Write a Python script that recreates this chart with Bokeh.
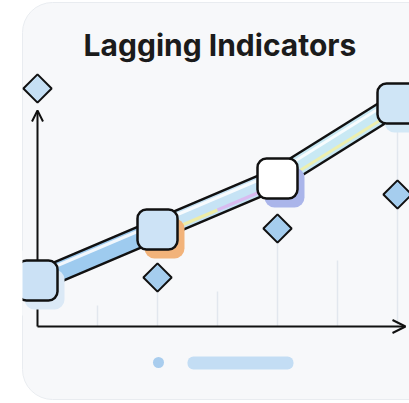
import numpy as np
from bokeh.plotting import figure
from bokeh.models import Range1d, BoxAnnotation, Arrow, OpenHead, Label
from bokeh.embed import file_html
from bokeh.resources import INLINE

# ---- data ----
periods = [0, 1, 2, 3]
lagging = [46, 97, 148, 223]          # main series (rounded squares)
leading = [238, 49, 98, 132]          # diamond series
square_fill = ["#cbe1f5", "#cde3f6", "#ffffff", "#cfe5f6"]
shadow_fill = ["#dbe9f6", "#f2b37a", "#aab5ea", "#d3e8f6"]
diamond_fill = ["#c5dff4", "#a5cdee", "#a5cdee", "#a5cdee"]
tick_pos = [0.5, 1, 1.5, 2, 2.5, 3]
tick_height = [21, 49, 35, 98, 66, 223]
title = "Lagging Indicators"

PX = 120.0  # pixels per period
X0 = 37     # pixel of period 0
W, H = 409, 403
xmin = -X0 / PX
xmax = xmin + W / PX
AXIS_Y = 326
ymax = AXIS_Y
ymin = AXIS_Y - H

p = figure(width=W, height=H, x_range=Range1d(xmin, xmax), y_range=Range1d(ymin, ymax),
           output_backend="svg", toolbar_location=None, min_border=0,
           x_axis_location=None, y_axis_location=None,
           outline_line_color=None, background_fill_color="white", border_fill_color="white")
p.grid.visible = False

def dx(px):
    return px / PX

def px_x(page_x):
    return (page_x - X0) / PX

def px_y(page_y):
    return AXIS_Y - page_y

# panel
panel = BoxAnnotation(left=px_x(22), right=xmax + 1, top=px_y(2), bottom=px_y(399),
                      fill_color="#f7f8fa", fill_alpha=1, line_color="#e9ecf0", line_alpha=1,
                      line_width=1, border_radius=30, level="underlay")
p.add_layout(panel)

# faint vertical ticks
p.segment(x0=tick_pos, y0=[0] * len(tick_pos), x1=tick_pos, y1=tick_height,
          line_color="#e2e7ee", line_width=1.5)

# axes
p.add_layout(Arrow(x_start=0, y_start=0, x_end=0, y_end=px_y(110), line_width=2, line_color="#111111",
                   end=OpenHead(size=11, line_width=2, line_color="#111111")))
p.add_layout(Arrow(x_start=0, y_start=0, x_end=px_x(405), y_end=0, line_width=2, line_color="#111111",
                   end=OpenHead(size=13, line_width=2, line_color="#111111")))

# band
xs = np.array(periods, dtype=float)
ys = np.array(lagging, dtype=float)
p.line(xs, ys, line_width=23, line_color="#111111", line_join="round")
seg_colors = ["#9ecbef", "#c6e3f5", "#c9e9f4"]
p.segment(x0=xs[:-1], y0=ys[:-1], x1=xs[1:], y1=ys[1:], line_width=18, line_color=seg_colors)
# highlights
p.segment(x0=xs[:-1], y0=ys[:-1] + 6.5, x1=xs[1:], y1=ys[1:] + 6.5, line_width=3,
          line_color="#ffffff", line_alpha=0.85)
mx = (xs[:-1] + xs[1:]) / 2
my = (ys[:-1] + ys[1:]) / 2
stripe_x0 = [xs[1], mx[1], xs[2]]
stripe_y0 = [ys[1] - 6, my[1] - 6, ys[2] - 6]
stripe_x1 = [mx[1], xs[2], xs[3]]
stripe_y1 = [my[1] - 6, ys[2] - 6, ys[3] - 6]
p.segment(x0=stripe_x0, y0=stripe_y0, x1=stripe_x1, y1=stripe_y1, line_width=3,
          line_color=["#f2ec9c", "#dab6ef", "#f1efa6"], line_alpha=0.9)

# diamonds
p.scatter(periods, leading, marker="square", angle=np.pi / 4, size=20,
          fill_color=diamond_fill, line_color="#111111", line_width=2)

# squares with coloured shadows
half = 20
for xv, yv, shf in zip(periods, lagging, shadow_fill):
    p.add_layout(BoxAnnotation(left=xv - dx(half) + dx(7), right=xv + dx(half) + dx(7),
                               top=yv + half - 9, bottom=yv - half - 9,
                               fill_color=shf, fill_alpha=1, line_color=None, border_radius=10))
for xv, yv, sf in zip(periods, lagging, square_fill):
    p.add_layout(BoxAnnotation(left=xv - dx(half), right=xv + dx(half),
                               top=yv + half, bottom=yv - half,
                               fill_color=sf, fill_alpha=1, line_color="#111111", line_alpha=1,
                               line_width=2.5, border_radius=9))

# clip first square at panel edge
p.add_layout(BoxAnnotation(left=xmin - 1, right=px_x(22), top=px_y(250), bottom=px_y(315),
                           fill_color="white", fill_alpha=1, line_color=None))

# legend-like dot and pill
p.scatter([px_x(158)], [px_y(362)], size=11, fill_color="#a9cdee", line_color=None)
p.add_layout(BoxAnnotation(left=px_x(187), right=px_x(293), top=px_y(356), bottom=px_y(369),
                           fill_color="#c3ddf4", fill_alpha=1, line_color=None, border_radius=6))

# title
p.add_layout(Label(x=px_x(219.5), y=px_y(44), text=title, text_align="center",
                   text_baseline="alphabetic", text_font="Inter", text_font_style="bold",
                   text_font_size="30px", text_color="#1b1b1b"))

open("out.html", "w").write(file_html(p, INLINE))
